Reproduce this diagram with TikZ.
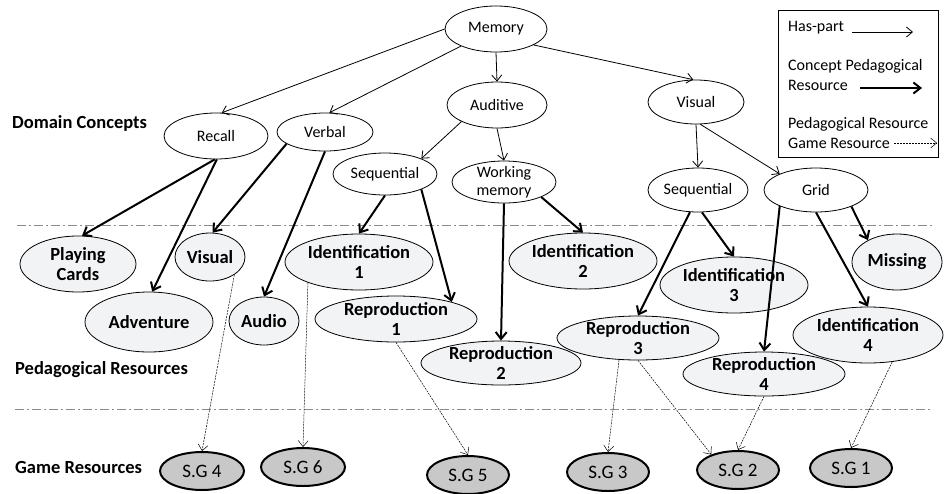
\documentclass[tikz,border=0pt]{standalone}
\usepackage{fontspec}
\setmainfont{Carlito}
\usetikzlibrary{shapes.geometric,arrows.meta}
\definecolor{pedfill}{HTML}{F2F3F5}
\definecolor{gamefill}{HTML}{C8C8C8}
\definecolor{sepgray}{HTML}{8A8A8A}
\tikzset{
  concept/.style={ellipse, draw, line width=0.8pt, inner sep=-14pt, align=center,
    font=\fontsize{16}{18}\selectfont},
  ped/.style={ellipse, draw, line width=0.8pt, fill=pedfill, inner sep=-14pt, align=center,
    font=\bfseries\fontsize{18.5}{20}\selectfont},
  game/.style={ellipse, draw, line width=2pt, fill=gamefill, inner sep=-10pt,
    font=\fontsize{19}{20}\selectfont},
  lbl/.style={anchor=west, inner sep=0pt, font=\bfseries\fontsize{18.5}{20}\selectfont},
  leg/.style={anchor=west, inner sep=0pt, font=\fontsize{16}{19.5}\selectfont, align=left},
  haspart/.style={-{Straight Barb[length=6pt,width=10pt]}, line width=0.8pt},
  cpr/.style={-{Straight Barb[length=7pt,width=11pt]}, line width=2pt},
  prgr/.style={-{Straight Barb[length=6pt,width=10pt]}, line width=0.5pt, dash pattern=on 2pt off 1pt},
  sepline/.style={draw=sepgray, line width=0.9pt, dash pattern=on 9pt off 3pt on 2pt off 3pt},
}
\begin{document}
\begin{tikzpicture}[x=1pt,y=-1pt]
\useasboundingbox (0,0) rectangle (944,493);

% separators
\coordinate (s1a) at (17,225); \coordinate (s1b) at (933,225);
\coordinate (s2a) at (15,409); \coordinate (s2b) at (933,409);
\draw[sepline] (s1a) -- (s1b);
\draw[sepline] (s2a) -- (s2b);

% labels
\node[lbl] (ldc) at (12,123) {Domain Concepts};
\node[lbl] (lpr) at (15,370) {Pedagogical Resources};
\node[lbl] (lgr) at (15,467) {Game Resources};

% legend
\node[draw, line width=0.8pt, minimum width=160pt, minimum height=147pt, inner sep=0pt] (legend) at (858,83.5) {};
\node[leg] (lg1) at (788,28) {Has-part};
\node[leg] (lg2) at (788,75) {Concept Pedagogical\\Resource};
\node[leg] (lg3) at (788,133) {Pedagogical Resource\\Game Resource};
\coordinate (la1) at (852,32); \coordinate (lb1) at (913,32);
\coordinate (la2) at (860,88); \coordinate (lb2) at (922,88);
\coordinate (la3) at (894,143); \coordinate (lb3) at (937,143);
\draw[haspart] (la1) -- (lb1);
\draw[cpr] (la2) -- (lb2);
\draw[prgr] (la3) -- (lb3);

% domain concepts
\node[concept, minimum width=102pt, minimum height=46pt] (memory) at (496,29) {Memory};
\node[concept, minimum width=100pt, minimum height=46pt] (auditive) at (497,105) {Auditive};
\node[concept, minimum width=96pt, minimum height=44pt] (visual) at (696,102) {Visual};
\node[concept, minimum width=104pt, minimum height=46pt] (recall) at (216,136) {Recall};
\node[concept, minimum width=96pt, minimum height=38pt] (verbal) at (325,132) {Verbal};
\node[concept, minimum width=104pt, minimum height=42pt] (seql) at (385,174) {Sequential};
\node[concept, minimum width=104pt, minimum height=42pt] (wm) at (504,182) {Working\\memory};
\node[concept, minimum width=100pt, minimum height=44pt] (seqr) at (698,190) {Sequential};
\node[concept, minimum width=104pt, minimum height=44pt] (grid) at (816,190) {Grid};

% pedagogical resources
\node[ped, minimum width=116pt, minimum height=56pt] (cards) at (78,264) {Playing\\Cards};
\node[ped, minimum width=70pt, minimum height=48pt] (pvisual) at (210,257) {Visual};
\node[ped, minimum width=148pt, minimum height=56pt] (id1) at (359,262) {Identification\\1};
\node[ped, minimum width=128pt, minimum height=60pt] (adv) at (149,322) {Adventure};
\node[ped, minimum width=70pt, minimum height=48pt] (audio) at (264,321) {Audio};
\node[ped, minimum width=162pt, minimum height=46pt] (rep1) at (396,319) {Reproduction\\1};
\node[ped, minimum width=160pt, minimum height=44pt] (rep2) at (501,363) {Reproduction\\2};
\node[ped, minimum width=148pt, minimum height=56pt] (id2) at (583,261) {Identification\\2};
\node[ped, minimum width=148pt, minimum height=56pt] (id3) at (734,285) {Identification\\3};
\node[ped, minimum width=90pt, minimum height=56pt] (missing) at (897,262) {Missing};
\node[ped, minimum width=162pt, minimum height=44pt] (rep3) at (638,338) {Reproduction\\3};
\node[ped, minimum width=150pt, minimum height=56pt] (id4) at (868,335) {Identification\\4};
\node[ped, minimum width=162pt, minimum height=44pt] (rep4) at (764,374) {Reproduction\\4};

% game resources
\node[game, minimum width=84pt, minimum height=38pt] (sg4) at (202,471) {S.G 4};
\node[game, minimum width=84pt, minimum height=38pt] (sg6) at (303,467) {S.G 6};
\node[game, minimum width=82pt, minimum height=38pt] (sg5) at (468,475) {S.G 5};
\node[game, minimum width=82pt, minimum height=38pt] (sg3) at (608,472) {S.G 3};
\node[game, minimum width=82pt, minimum height=38pt] (sg2) at (738,470) {S.G 2};
\node[game, minimum width=82pt, minimum height=38pt] (sg1) at (851,468) {S.G 1};

% has-part
\draw[haspart] (memory.180) -- (recall.76);
\draw[haspart] (memory.-154) -- (verbal.77);
\draw[haspart] (memory.south) -- (auditive.north);
\draw[haspart] (memory.-23) -- (visual.97);
\draw[haspart] (auditive.-155) -- (seql.23);
\draw[haspart] (auditive.south) -- (wm.north);
\draw[haspart] (visual.south) -- (seqr.north);
\draw[haspart] (visual.-79) -- (grid.156);

% concept -> pedagogical resource
\draw[cpr] (recall.-93) -- (cards.82);
\draw[cpr] (recall.-88) -- (adv.84);
\draw[cpr] (verbal.197) -- (pvisual.84);
\draw[cpr] (verbal.south) -- (audio.north);
\draw[cpr] (seql.south) -- (id1.north);
\draw[cpr] (seql.-23) -- (rep1.17);
\draw[cpr] (wm.-22) -- (id2.north);
\draw[cpr] (wm.south) -- (rep2.north);
\draw[cpr] (seqr.-110) -- (rep3.north);
\draw[cpr] (seqr.-80) -- (id3.north);
\draw[cpr] (grid.204) -- (rep4.north);
\draw[cpr] (grid.south) -- (id4.north);
\draw[cpr] (grid.-25) -- (missing.143);

% pedagogical resource -> game resource
\draw[prgr] (pvisual.-36) -- (sg4.north);
\draw[prgr] (id1.202) -- (sg6.north);
\draw[prgr] (rep1.south) -- (sg5.north);
\draw[prgr] (rep3.-131) -- (sg3.north);
\draw[prgr] (rep3.south) -- (sg2.150);
\draw[prgr] (rep4.south) -- (sg2.north);
\draw[prgr] (id4.-48) -- (sg1.north);
\end{tikzpicture}
\end{document}
